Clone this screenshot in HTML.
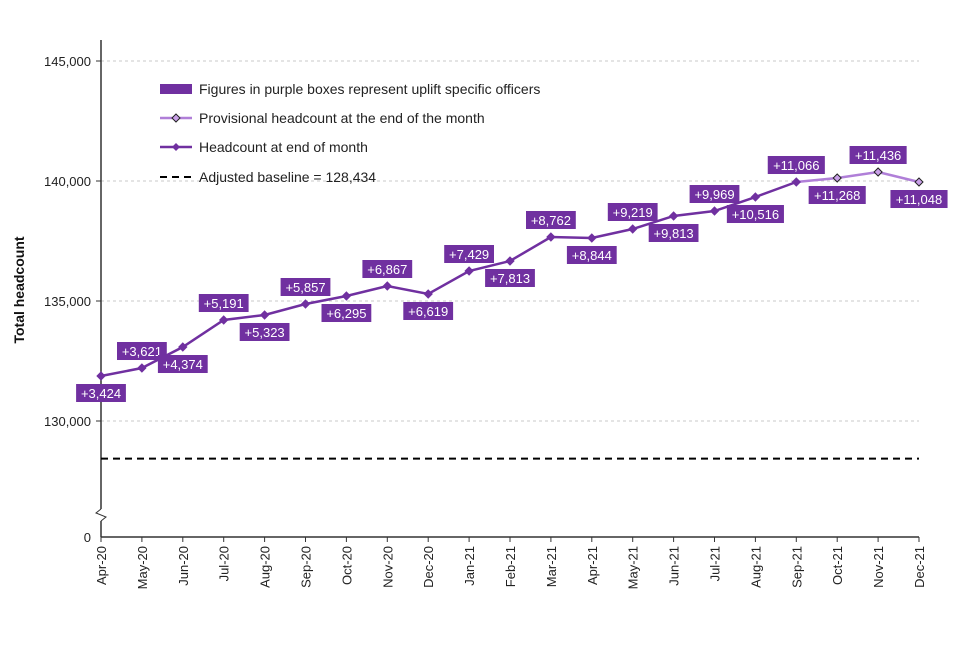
<!DOCTYPE html>
<html><head><meta charset="utf-8"><style>
body{margin:0;background:#fff;font-family:"Liberation Sans",Arial,sans-serif}
svg text{font-family:"Liberation Sans",Arial,sans-serif}
</style></head><body>
<svg id="chart" width="960" height="640" viewBox="0 0 960 640">
<g id="grid"></g><g id="axes"></g><g id="series"></g><g id="labels"></g><g id="legend"></g>
</svg>
<script>
const months=["Apr-20","May-20","Jun-20","Jul-20","Aug-20","Sep-20","Oct-20","Nov-20","Dec-20","Jan-21","Feb-21","Mar-21","Apr-21","May-21","Jun-21","Jul-21","Aug-21","Sep-21","Oct-21","Nov-21","Dec-21"];
const headcount=[131875,132208,133083,134208,134417,134875,135208,135625,135292,136250,136667,137667,137625,138000,138542,138750,139333,139958,140125,140375,139958];
const uplift=["+3,424","+3,621","+4,374","+5,191","+5,323","+5,857","+6,295","+6,867","+6,619","+7,429","+7,813","+8,762","+8,844","+9,219","+9,813","+9,969","+10,516","+11,066","+11,268","+11,436","+11,048"];
const labelAbove=[0,1,0,1,0,1,0,1,0,1,0,1,0,1,0,1,0,1,0,1,0];
const provisionalFrom=17;
const baseline=128434;
const yTicks=[130000,135000,140000,145000];
const yTickLabels=["130,000","135,000","140,000","145,000"];

const NS="http://www.w3.org/2000/svg";
const X0=101,X1=919;
const x=i=>X0+i*(X1-X0)/(months.length-1);
const y=v=>421-(v-130000)*0.024;
function mk(tag,attrs,parent,txt){const e=document.createElementNS(NS,tag);for(const k in attrs)e.setAttribute(k,attrs[k]);if(txt!==undefined)e.textContent=txt;document.getElementById(parent).appendChild(e);return e;}

yTicks.forEach((t,i)=>{
 const g=mk('line',{x1:X0,x2:X1,y1:y(t),y2:y(t),stroke:'#c8c8c8','stroke-dasharray':'3,3'},'grid');
 
 
 mk('line',{x1:X0-5,x2:X0,y1:y(t),y2:y(t),stroke:'#333'},'axes');
 const l=mk('text',{x:X0-10,y:y(t)+5,'text-anchor':'end','font-size':13,fill:'#222'},'axes',yTickLabels[i]);
 
 
});
const z=mk('text',{x:X0-10,y:542,'text-anchor':'end','font-size':13,fill:'#222'},'axes','0');


mk('line',{x1:X0,x2:X0,y1:40,y2:509,stroke:'#333','stroke-width':1.5},'axes');
mk('line',{x1:X0,x2:X0,y1:521,y2:537,stroke:'#333','stroke-width':1.5},'axes');
mk('path',{d:'M'+X0+' 509 L'+(X0-5)+' 513 L'+(X0+5)+' 517 L'+X0+' 521',fill:'none',stroke:'#333'},'axes');
mk('line',{x1:X0,x2:X1,y1:537,y2:537,stroke:'#333','stroke-width':1.5},'axes');
const yt=mk('text',{x:0,y:0,'font-size':14,'font-weight':'bold',fill:'#111','text-anchor':'middle',transform:'translate(24,290) rotate(-90)'},'axes','Total headcount');


months.forEach((m,i)=>{
 mk('line',{x1:x(i),x2:x(i),y1:537,y2:542,stroke:'#333'},'axes');
 const t=mk('text',{x:0,y:0,'font-size':13,fill:'#222','text-anchor':'end',transform:`translate(${x(i)+5},546) rotate(-90)`},'axes',m);
 
 
});
const bl=mk('line',{x1:X0,x2:X1,y1:y(baseline),y2:y(baseline),stroke:'#000','stroke-width':2,'stroke-dasharray':'7,5'},'series');


let p='';for(let i=0;i<=provisionalFrom;i++)p+=(i?'L':'M')+x(i)+' '+y(headcount[i]);
const ln=mk('path',{d:p,fill:'none',stroke:'#7030a0','stroke-width':2.5},'series');


let p2='';for(let i=provisionalFrom;i<headcount.length;i++)p2+=(i>provisionalFrom?'L':'M')+x(i)+' '+y(headcount[i]);
const ln2=mk('path',{d:p2,fill:'none',stroke:'#b07fd8','stroke-width':2.5},'series');


headcount.forEach((v,i)=>{
 const cx=x(i),cy=y(v),prov=i>provisionalFrom;
 const d=mk('path',{d:`M${cx} ${cy-4}L${cx+4} ${cy}L${cx} ${cy+4}L${cx-4} ${cy}Z`,fill:prov?'#c9a0e8':'#7030a0',stroke:prov?'#222':'#7030a0','stroke-width':1},'series');
 
 
 const w=uplift[i].length*7.3+6,h=18;
 const by=labelAbove[i]?cy-8-h:cy+8;
 const r=mk('rect',{x:cx-w/2,y:by,width:w,height:h,fill:'#7030a0'},'labels');
 
 
 const t=mk('text',{x:cx,y:by+14,'text-anchor':'middle','font-size':13,fill:'#fff'},'labels',uplift[i]);
 
 
});
// legend
const L=[{y:89,t:'Figures in purple boxes represent uplift specific officers'},{y:118,t:'Provisional headcount at the end of the month'},{y:147,t:'Headcount at end of month'},{y:177,t:'Adjusted baseline = 128,434'}];
const r0=mk('rect',{x:160,y:84,width:32,height:10,fill:'#7030a0'},'legend');


mk('line',{x1:160,x2:192,y1:118,y2:118,stroke:'#b07fd8','stroke-width':2.5},'legend');
mk('path',{d:'M176 114L180 118L176 122L172 118Z',fill:'#c9a0e8',stroke:'#222'},'legend');
mk('line',{x1:160,x2:192,y1:147,y2:147,stroke:'#7030a0','stroke-width':2.5},'legend');
mk('path',{d:'M176 143L180 147L176 151L172 147Z',fill:'#7030a0'},'legend');
mk('line',{x1:160,x2:192,y1:177,y2:177,stroke:'#000','stroke-width':2,'stroke-dasharray':'7,5'},'legend');
L.forEach(e=>{const t=mk('text',{x:199,y:e.y+5,'font-size':14,fill:'#222'},'legend',e.t);
 
 });
</script>
</body></html>
